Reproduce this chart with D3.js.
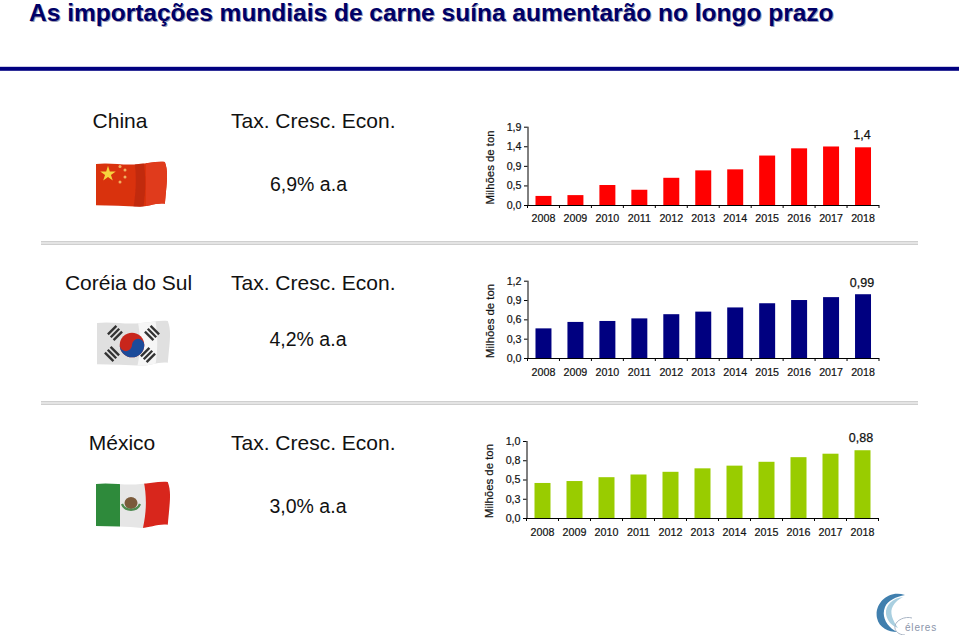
<!DOCTYPE html>
<html><head><meta charset="utf-8">
<script src="https://cdn.jsdelivr.net/npm/d3@7/dist/d3.min.js"></script>
<style>html,body{margin:0;background:#fff;overflow:hidden}svg{display:block}text{font-family:"Liberation Sans",Arial,sans-serif}</style>
</head><body><svg id="c" width="959" height="635"></svg>
<script>
const years = ["2008","2009","2010","2011","2012","2013","2014","2015","2016","2017","2018"];
const chinaValues = [0.22,0.24,0.485,0.37,0.66,0.84,0.865,1.20,1.375,1.42,1.40];
const koreaValues = [0.46,0.56,0.575,0.615,0.68,0.72,0.785,0.85,0.90,0.945,0.99];
const mexicoValues = [0.455,0.48,0.53,0.565,0.60,0.645,0.68,0.73,0.79,0.835,0.88];
const chinaTicks = [0,0.475,0.95,1.425,1.9];
const koreaTicks = [0,0.3,0.6,0.9,1.2];
const mexicoTicks = [0,0.25,0.5,0.75,1.0];
const chinaTickLabels = ["0,0","0,5","0,9","1,4","1,9"];
const koreaTickLabels = ["0,0","0,3","0,6","0,9","1,2"];
const mexicoTickLabels = ["0,0","0,3","0,5","0,8","1,0"];
const title = "As importações mundiais de carne suína aumentarão no longo prazo";
const rateHeading = "Tax. Cresc. Econ.";
const yTitle = "Milhões de ton";

const svg = d3.select("#c");
const NAVY = "#000066";
const defs = svg.append("defs");
defs.append("filter").attr("id","soft").attr("x","-10%").attr("y","-10%").attr("width","120%").attr("height","120%")
  .append("feGaussianBlur").attr("stdDeviation",0.6);
defs.append("filter").attr("id","softer").attr("x","-10%").attr("y","-10%").attr("width","120%").attr("height","120%")
  .append("feGaussianBlur").attr("stdDeviation",0.9);

// title with soft shadow, rule, separators
svg.append("text").attr("x",29).attr("y",21).attr("font-size",24.5).attr("font-weight","bold").attr("fill","#9a9ab4").attr("transform","translate(1,1)").text(title);
svg.append("text").attr("x",29).attr("y",21).attr("font-size",24.5).attr("font-weight","bold").attr("fill",NAVY).text(title);
svg.append("rect").attr("x",0).attr("y",66.8).attr("width",959).attr("height",4).attr("fill","#000080");
[243,403].forEach(y=>{
  svg.append("rect").attr("x",41).attr("y",y-2).attr("width",877).attr("height",4).attr("fill","#cfcfcf");
  svg.append("rect").attr("x",41).attr("y",y-.6).attr("width",877).attr("height",1.2).attr("fill","#f2f2f2");
});

function panel(o){
  const x = d3.scaleBand().domain(years).range([o.left,o.right]).paddingInner(0.5).paddingOuter(0.25);
  const y = d3.scaleLinear().domain([0,o.ticks[o.ticks.length-1]]).range([o.bottom,o.top]);
  const g = svg.append("g");
  g.selectAll("rect.bar").data(o.values).join("rect").attr("class","bar")
    .attr("x",(d,i)=>x(years[i])).attr("width",x.bandwidth())
    .attr("y",d=>y(d)).attr("height",d=>y(0)-y(d)).attr("fill",o.color);
  const ay = g.append("g").attr("transform",`translate(${o.left},0)`)
    .call(d3.axisLeft(y).tickValues(o.ticks).tickSize(3.5).tickPadding(2.5).tickFormat((d,i)=>o.tickLabels[i]));
  const ax = g.append("g").attr("transform",`translate(0,${o.bottom})`)
    .call(d3.axisBottom(x).tickSize(0).tickPadding(o.xPad));
  ax.selectAll(".edge").data(d3.range(years.length+1)).join("line").attr("class","edge")
    .attr("x1",i=>o.left+i*x.step()).attr("x2",i=>o.left+i*x.step())
    .attr("y1",0).attr("y2",3).attr("stroke","#000");
  [ay,ax].forEach(a=>{
    a.selectAll("text").attr("font-size",10.7).attr("font-family",'"Liberation Sans",Arial,sans-serif').attr("fill","#111").attr("stroke","#111").attr("stroke-width",0.2);
    a.select(".domain").attr("stroke","#000");
  });
  ax.select(".domain").attr("d",`M${o.left},0.5H${o.right}`);
  ay.select(".domain").attr("d",`M0.5,${o.top}V${o.bottom}`);
  g.append("text").attr("transform",`translate(${o.yTitleX},${(o.top+o.bottom)/2+1.5}) rotate(-90)`)
    .attr("text-anchor","middle").attr("font-size",11.4).attr("fill","#111").attr("stroke","#111").attr("stroke-width",0.2).text(yTitle);
  g.append("text").attr("x",o.labelX).attr("y",o.labelY).attr("text-anchor","middle")
    .attr("font-size",12.5).attr("fill","#111").attr("stroke","#111").attr("stroke-width",0.25).text(o.label);
  // left text block
  g.append("text").attr("x",o.nameX).attr("y",o.nameY).attr("text-anchor","middle").attr("font-size",21).attr("fill","#111").text(o.name);
  g.append("text").attr("x",o.headX).attr("y",o.nameY).attr("font-size",21).attr("fill","#111").text(rateHeading);
  g.append("text").attr("x",o.rateX).attr("y",o.rateY).attr("text-anchor","middle").attr("font-size",19.5).attr("fill","#111").text(o.rate);
}
panel({values:chinaValues,ticks:chinaTicks,tickLabels:chinaTickLabels,color:"#ff0000",left:527.5,right:879,top:126.7,bottom:205,xPad:9,yTitleX:494,label:"1,4",labelX:862,labelY:139,name:"China",nameX:120,nameY:127.5,headX:231,rate:"6,9% a.a",rateX:308.5,rateY:191});
panel({values:koreaValues,ticks:koreaTicks,tickLabels:koreaTickLabels,color:"#000080",left:527.5,right:879,top:280.7,bottom:358,xPad:10,yTitleX:494,label:"0,99",labelX:862,labelY:287,name:"Coréia do Sul",nameX:128.5,nameY:290,headX:231,rate:"4,2% a.a",rateX:308,rateY:346});
panel({values:mexicoValues,ticks:mexicoTicks,tickLabels:mexicoTickLabels,color:"#99cc00",left:526.5,right:878.5,top:441,bottom:518,xPad:10,yTitleX:493,label:"0,88",labelX:861,labelY:442,name:"México",nameX:122,nameY:450,headX:231,rate:"3,0% a.a",rateX:308,rateY:513});

// decorative flags (waving silhouettes)
function flag(x0,y0,w,h){
  return `M${x0},${y0+1} C${x0+w*.2},${y0-1} ${x0+w*.4},${y0+3} ${x0+w*.6},${y0+1} C${x0+w*.72},${y0+1} ${x0+w*.85},${y0-2} ${x0+w*.97},${y0-1}
    C${x0+w*1.02},${y0+h*.2} ${x0+w},${y0+h*.4} ${x0+w*.97},${y0+h*.95} C${x0+w*.85},${y0+h*.92} ${x0+w*.72},${y0+h*1.02} ${x0+w*.62},${y0+h*1.02}
    C${x0+w*.42},${y0+h*1.0} ${x0+w*.2},${y0+h*.98} ${x0},${y0+h*.98} Z`;
}
function clip(id,d){defs.append("clipPath").attr("id",id).append("path").attr("d",d);}
function flagGroup(id){return svg.append("g").attr("filter","url(#soft)").append("g").attr("clip-path",`url(#${id})`);}
// China
clip("fc",flag(96,163,71,43));
const cg=flagGroup("fc");
cg.append("rect").attr("x",96).attr("y",160).attr("width",72).attr("height",50).attr("fill","#d9300f");
cg.append("path").attr("d","M134,158 C137,175 136,195 133,210 L143,210 C146,190 146,175 143,158Z").attr("fill","#b02812").attr("opacity",.6);
cg.append("rect").attr("x",146).attr("y",160).attr("width",22).attr("height",50).attr("fill","#e03a1c");
const star=d3.symbol().type(d3.symbolStar);
cg.append("path").attr("d",star.size(75)()).attr("transform","translate(108,174)").attr("fill","#f6d33c");
[[120,166.5],[125,170],[125,177],[120,182]].forEach(p=>cg.append("circle").attr("cx",p[0]).attr("cy",p[1]).attr("r",1.5).attr("fill","#f0b060"));
// Korea
clip("fk",flag(97,322,73,43));
const kg=flagGroup("fk");
kg.append("rect").attr("x",96).attr("y",318).attr("width",75).attr("height",50).attr("fill","#e0e0e0");
kg.append("path").attr("d","M137,318 C141,335 141,350 137,368 L155,368 C158,350 158,335 155,318Z").attr("fill","#f6f6f6");
kg.append("circle").attr("cx",132).attr("cy",345).attr("r",12.3).attr("fill","#c8281e");
kg.append("path").attr("d","M119.7,345 A6.15,6.15 0 0 0 132,345 A6.15,6.15 0 0 1 144.3,345 A12.3,12.3 0 0 1 119.7,345Z").attr("fill","#1d4b9a");
[[115,333,-45],[152,333,45],[112,354,45],[148,355,-45]].forEach(p=>{
  const t=kg.append("g").attr("transform",`translate(${p[0]},${p[1]}) rotate(${p[2]})`);
  [-4,0,4].forEach(dy=>t.append("rect").attr("x",-6).attr("y",dy-1.2).attr("width",12).attr("height",2.4).attr("fill","#333"));
});
// Mexico
clip("fm",flag(96,483,74,44));
const mg=flagGroup("fm");
mg.append("rect").attr("x",95).attr("y",480).attr("width",25).attr("height",50).attr("fill","#2f8a3a");
mg.append("rect").attr("x",120).attr("y",480).attr("width",26).attr("height",50).attr("fill","#e6e6e6");
mg.append("path").attr("d","M143,478 C147,495 147,512 142,532 L172,532 L172,478Z").attr("fill","#d8261c");
mg.append("ellipse").attr("cx",131).attr("cy",503).attr("rx",6.5).attr("ry",6).attr("fill","#7a5a3a");
mg.append("path").attr("d","M122,504 A9.5,8.5 0 0 0 140,504").attr("fill","none").attr("stroke","#4f8a50").attr("stroke-width",2.2);

// logo
const logo=svg.append("g").attr("filter","url(#soft)");
logo.append("path").attr("d","M905,595 C888,589 874,604 877,618 C879,628 889,632 897,632 C887,627 881,617 885,607 C888,600 896,597 905,595Z").attr("fill","#3f7fae");
logo.append("path").attr("d","M903,597 C893,598 885,605 886,614 C887,621 892,626 898,628 C893,621 889,612 893,606 C895,602 899,599 903,597Z").attr("fill","#a9cfe0");
logo.append("path").attr("d","M912,618 C905,616 896,620 895,626 C894,631 899,635 905,635").attr("fill","none").attr("stroke","#a8b4c4").attr("stroke-width",1);
svg.append("text").attr("x",905).attr("y",631).attr("font-size",10).attr("fill","#8b95aa").attr("letter-spacing",.8).text("éleres");
</script></body></html>
